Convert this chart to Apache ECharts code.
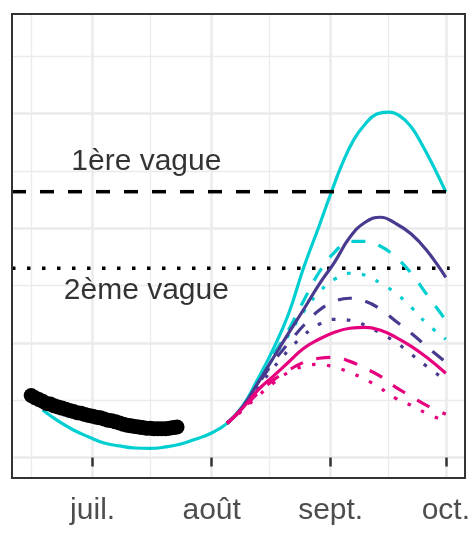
<!DOCTYPE html>
<html>
<head>
<meta charset="utf-8">
<script src="https://cdn.jsdelivr.net/npm/echarts@6/dist/echarts.min.js"></script>
<style>
html, body { margin: 0; padding: 0; background: #fff; }
#main { width: 473px; height: 536px; }
</style>
</head>
<body>
<div id="main"></div>
<script>
// tick labels (x axis)
var majorTicks = ['2020-07-01', '2020-08-01', '2020-09-01', '2020-10-01'];
var majorLabels = ['juil.', 'août', 'sept.', 'oct.'];
var minorTicks = ['2020-06-15', '2020-07-16', '2020-08-16', '2020-09-16'];

// observed (black points), daily from 15 June
var obsStart = '2020-06-15';
var obsValues = [0.54, 0.52, 0.505, 0.49, 0.47, 0.465, 0.45, 0.44, 0.43, 0.42,
    0.41, 0.40, 0.39, 0.385, 0.375, 0.365, 0.36, 0.35, 0.345, 0.335,
    0.325, 0.32, 0.31, 0.30, 0.29, 0.28, 0.275, 0.27, 0.265, 0.26,
    0.255, 0.255, 0.25, 0.25, 0.25, 0.25, 0.255, 0.26, 0.265];

// model before the scenarios split
var baseDates = ['2020-06-18', '2020-06-22', '2020-06-26', '2020-06-30', '2020-07-04', '2020-07-08',
    '2020-07-12', '2020-07-16', '2020-07-20', '2020-07-24', '2020-07-28', '2020-08-01'];
var baseValues = [0.414, 0.318, 0.239, 0.178, 0.126, 0.100, 0.082, 0.078, 0.091, 0.117, 0.161, 0.213];

// highest scenario (cyan, solid)
var cyanDates = ['2020-08-05', '2020-08-09', '2020-08-13', '2020-08-17', '2020-08-21', '2020-08-25', '2020-08-29',
    '2020-09-01', '2020-09-04', '2020-09-07', '2020-09-10', '2020-09-13', '2020-09-16', '2020-09-19',
    '2020-09-22', '2020-09-25', '2020-09-28', '2020-10-01'];
var cyanSolid = [0.297, 0.445, 0.681, 0.943, 1.249, 1.659, 2.020, 2.299, 2.561, 2.771, 2.910, 2.997, 3.014, 2.980,
    2.884, 2.718, 2.526, 2.316];

// other scenarios
var projDates = ['2020-08-05', '2020-08-09', '2020-08-13', '2020-08-17', '2020-08-21', '2020-08-25', '2020-08-29',
    '2020-09-02', '2020-09-06', '2020-09-10', '2020-09-14', '2020-09-18', '2020-09-22', '2020-09-26', '2020-10-01'];
var cyanDashed  = [0.297, 0.437, 0.664, 0.890, 1.110, 1.370, 1.616, 1.790, 1.886, 1.886, 1.843, 1.747, 1.607, 1.424, 1.197];
var cyanDotted  = [0.297, 0.437, 0.646, 0.865, 1.066, 1.275, 1.441, 1.555, 1.607, 1.590, 1.520, 1.432, 1.310, 1.170, 1.031];
var purpSolid   = [0.297, 0.437, 0.646, 0.865, 1.083, 1.293, 1.511, 1.703, 1.921, 2.052, 2.096, 2.040, 1.950, 1.808, 1.572];
var purpDashed  = [0.297, 0.428, 0.629, 0.830, 0.996, 1.153, 1.284, 1.362, 1.389, 1.362, 1.293, 1.188, 1.083, 0.969, 0.830];
var purpDotted  = [0.297, 0.419, 0.603, 0.777, 0.934, 1.066, 1.162, 1.205, 1.197, 1.153, 1.083, 1.004, 0.900, 0.795, 0.672];
var magSolid    = [0.297, 0.428, 0.585, 0.707, 0.830, 0.952, 1.031, 1.092, 1.127, 1.135, 1.109, 1.048, 0.969, 0.873, 0.734];
var magDashed   = [0.297, 0.419, 0.559, 0.672, 0.760, 0.830, 0.865, 0.873, 0.838, 0.777, 0.707, 0.611, 0.533, 0.454, 0.376];
var magDotted   = [0.297, 0.410, 0.533, 0.646, 0.742, 0.795, 0.812, 0.786, 0.742, 0.681, 0.603, 0.515, 0.454, 0.384, 0.314];

// thresholds
var wave1 = 2.319, wave2 = 1.650;
var threshDates = ['2020-06-10', '2020-10-02'];
var notes = [
    { text: '1ère vague', date: '2020-07-15', value: 2.584 },
    { text: '2ème vague', date: '2020-07-15', value: 1.458 }
];

// daily categories 10 June -> 6 Oct
var days = [];
var t0 = Date.UTC(2020, 5, 10);
for (var i = 0; i < 119; i++) {
    days.push(new Date(t0 + i * 86400000).toISOString().slice(0, 10));
}
function idx(d) { return days.indexOf(d); }
function pairs(dates, vals) {
    return dates.map(function (d, i) { return [idx(d), vals[i]]; });
}
var obsData = obsValues.map(function (v, i) { return [idx(obsStart) + i, v]; });

var labelOf = {};
majorTicks.forEach(function (d, i) { labelOf[d] = majorLabels[i]; });
function isMajor(i, v) { return labelOf[v] !== undefined; }
function isMinor(i, v) { return minorTicks.indexOf(v) >= 0; }

var CYAN = '#00CED1', PURP = '#4A3A8F', MAG = '#E6007E';
var DASH = [14, 14], DOT = [3.5, 11.5];

function scen(data, color, type, z) {
    return {
        type: 'line', data: data, smooth: 0.45, symbol: 'none', z: z,
        lineStyle: { color: color, width: 3.2, type: type },
        silent: true
    };
}

var chart = echarts.init(document.getElementById('main'));
var option = {
    animation: false,
    grid: { left: 12, right: 7, top: 14, bottom: 58, show: true, borderColor: '#333', borderWidth: 2, z: 10 },
    xAxis: [{
        type: 'category', data: days, boundaryGap: false,
        axisLine: { show: false },
        axisTick: { show: true, interval: isMajor, length: 9, lineStyle: { color: '#333', width: 2.5 } },
        axisLabel: {
            interval: isMajor, margin: 18, fontSize: 30, color: '#4D4D4D', fontFamily: 'Liberation Sans',
            formatter: function (v) { return labelOf[v] || ''; }
        },
        splitLine: { show: true, interval: isMajor, lineStyle: { color: '#EBEBEB', width: 2.5 } }
    }, {
        type: 'category', data: days, boundaryGap: false, position: 'top',
        axisLine: { show: false }, axisTick: { show: false }, axisLabel: { show: false },
        splitLine: { show: true, interval: isMinor, lineStyle: { color: '#EBEBEB', width: 1.3 } }
    }],
    yAxis: [{
        type: 'value', min: -0.18, max: 3.87, splitNumber: 4,
        axisLine: { show: false }, axisTick: { show: false }, axisLabel: { show: false },
        splitLine: { show: true, showMinLine: false, showMaxLine: false, lineStyle: { color: '#EBEBEB', width: 2.5 } }
    }, {
        type: 'value', min: -0.18, max: 3.87, splitNumber: 8,
        axisLine: { show: false }, axisTick: { show: false }, axisLabel: { show: false },
        splitLine: { show: true, showMinLine: false, showMaxLine: false, lineStyle: { color: '#EBEBEB', width: 1.3 } }
    }],
    series: [
        { type: 'line', data: pairs(threshDates, [wave1, wave1]), symbol: 'none', silent: true,
          lineStyle: { color: '#000', width: 3.5, type: DASH } },
        { type: 'line', data: pairs(threshDates, [wave2, wave2]), symbol: 'none', silent: true,
          lineStyle: { color: '#000', width: 3.5, type: DOT } },
        scen(pairs(baseDates, baseValues).concat(pairs(cyanDates, cyanSolid)), CYAN, 'solid', 2),
        scen(pairs(projDates, cyanDashed), CYAN, DASH, 3),
        scen(pairs(projDates, cyanDotted), CYAN, DOT, 3),
        scen(pairs(projDates, purpSolid), PURP, 'solid', 4),
        scen(pairs(projDates, purpDashed), PURP, DASH, 4),
        scen(pairs(projDates, purpDotted), PURP, DOT, 4),
        scen(pairs(projDates, magSolid), MAG, 'solid', 5),
        scen(pairs(projDates, magDashed), MAG, DASH, 5),
        scen(pairs(projDates, magDotted), MAG, DOT, 5),
        { type: 'scatter', data: obsData, symbolSize: 15, z: 6, silent: true,
          itemStyle: { color: '#000', opacity: 1 } },
        { type: 'scatter', z: 7, silent: true, symbolSize: 1,
          data: notes.map(function (n) { return { value: [idx(n.date), n.value], name: n.text }; }),
          itemStyle: { color: 'rgba(0,0,0,0)' },
          label: { show: true, position: 'inside', formatter: '{b}', fontSize: 30, color: '#000', fontFamily: 'Liberation Sans' } }
    ]
};
chart.setOption(option);
</script>
</body>
</html>
